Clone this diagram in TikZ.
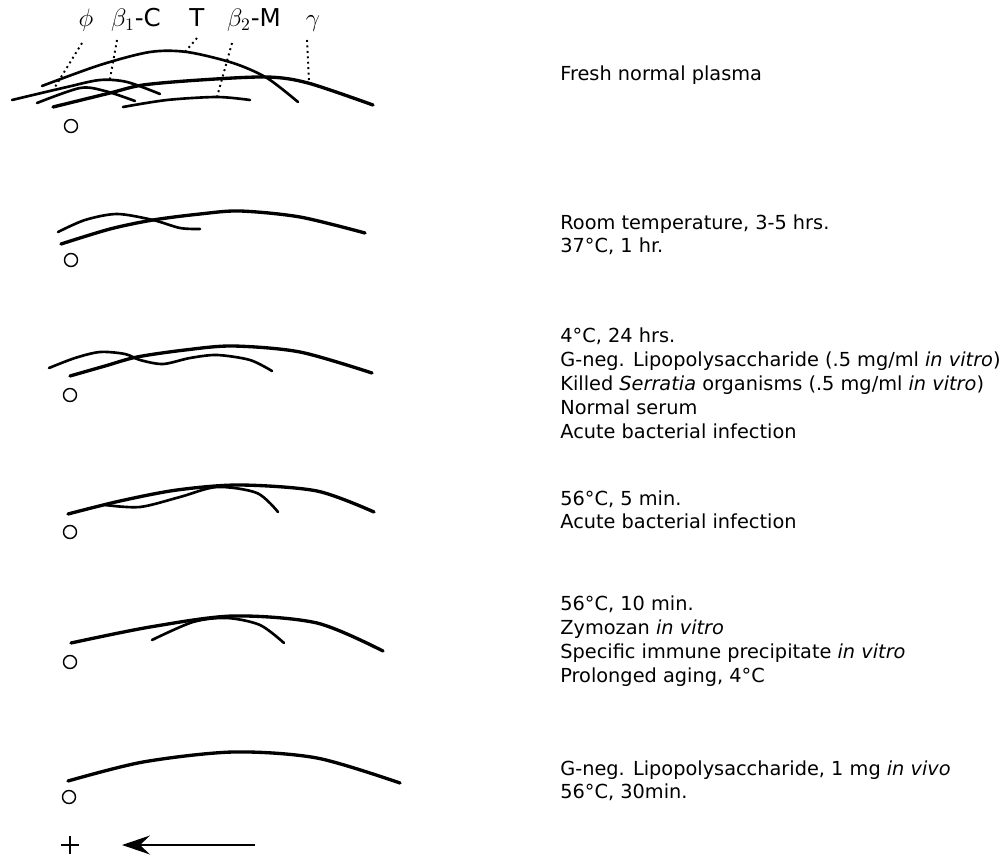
\documentclass[tikz,border=0pt]{standalone}
\usepackage{fontspec}
\setmainfont{DejaVu Sans}
\usetikzlibrary{arrows.meta}

\begin{document}
\begin{tikzpicture}[x=0.02cm, y=-0.02cm,
  band/.style={line width=1.5pt, line cap=round},
  heavy/.style={line width=1.9pt, line cap=round},
  leader/.style={dotted, line width=1.1pt},
  origin/.style={circle, draw, line width=0.8pt, minimum size=0.26cm, inner sep=0pt},
  cond/.style={anchor=base west, inner sep=0pt, font=\fontsize{11}{13}\selectfont},
  frac/.style={anchor=base, inner sep=0pt, font=\fontsize{14}{16}\selectfont}
]
  \useasboundingbox (0,0) rectangle (1007,855);

  % fraction labels
  \node[frac] (phi) at (86,27)  {$\phi$};
  \node[frac] (bc)  at (136,27) {$\beta_1$-C};
  \node[frac] (tr)  at (197,27) {T};
  \node[frac] (bm)  at (254,27) {$\beta_2$-M};
  \node[frac] (gam) at (313,27) {$\gamma$};

  \coordinate (phi-a) at (82,43);   \coordinate (phi-b) at (55,87);
  \coordinate (bc-a)  at (117,40);  \coordinate (bc-b)  at (110,79);
  \coordinate (tr-a)  at (197,38);  \coordinate (tr-b)  at (185,52);
  \coordinate (bm-a)  at (232,43);  \coordinate (bm-b)  at (217,97);
  \coordinate (gam-a) at (307,40);  \coordinate (gam-b) at (309,83);
  \draw[leader] (phi-a) -- (phi-b);
  \draw[leader] (bc-a) -- (bc-b);
  \draw[leader] (tr-a) -- (tr-b);
  \draw[leader] (bm-a) -- (bm-b);
  \draw[leader] (gam-a) -- (gam-b);

  % fresh normal plasma
  \draw[band] plot[smooth] coordinates {(42,86) (100,65) (150,52) (187,52) (233,63) (267,78) (298,102)};
  \draw[heavy] plot[smooth] coordinates {(53,107) (110,93) (143,85) (200,80) (267,77) (308,83) (373,105)};
  \draw[band] plot[smooth] coordinates {(12,100) (67,87) (100,80) (127,82) (160,94)};
  \draw[band] plot[smooth] coordinates {(37,103) (80,88) (105,91) (135,101)};
  \draw[band] plot[smooth] coordinates {(123,107) (167,100) (217,97) (250,100)};
  \node[origin] (o1) at (71,126) {};

  % room temperature
  \draw[band] plot[smooth] coordinates {(58,232) (85,220) (117,214) (153,220) (180,228) (200,229)};
  \draw[heavy] plot[smooth] coordinates {(61,244) (110,229) (153,220) (200,214) (240,211) (300,217) (365,233)};
  \node[origin] (o2) at (71,260) {};

  % 4 C, 24 hrs
  \draw[band] plot[smooth] coordinates {(49,368) (75,358) (100,352) (125,354) (140,360) (163,364) (190,358) (217,355) (250,360) (272,371)};
  \draw[heavy] plot[smooth] coordinates {(70,376) (105,366) (137,357) (185,350) (233,346) (300,352) (372,373)};
  \node[origin] (o3) at (70,395) {};

  % 56 C, 5 min
  \draw[heavy] plot[smooth] coordinates {(68,514) (120,501) (177,490) (240,485) (317,491) (374,512)};
  \draw[band] plot[smooth] coordinates {(105,505) (140,507) (180,497) (217,487) (257,493) (278,512)};
  \node[origin] (o4) at (70,532) {};

  % 56 C, 10 min
  \draw[heavy] plot[smooth] coordinates {(71,643) (150,627) (233,616) (317,623) (383,651)};
  \draw[band] plot[smooth] coordinates {(152,640) (193,622) (227,618) (260,625) (284,643)};
  \node[origin] (o5) at (70,662) {};

  % 56 C, 30 min
  \draw[heavy] plot[smooth] coordinates {(68,781) (143,762) (233,752) (317,758) (400,783)};
  \node[origin] (o6) at (69,797) {};

  % anode and direction
  \draw[line width=0.8pt] (61,845) -- (79,845) (70,836) -- (70,854);
  \coordinate (arr-tail) at (255,845);
  \coordinate (arr-head) at (122,845);
  \draw[-{Stealth[length=5.6mm, width=3.8mm, inset=2mm]}, line width=0.8pt] (arr-tail) -- (arr-head);

  % conditions
  \node[cond] (fresh) at (560,81)  {Fresh normal plasma};
  \node[cond] (room)  at (560,229) {Room temperature, 3-5 hrs.};
  \node[cond] (warm)  at (560,252) {37°C, 1 hr.};
  \node[cond] (cold)  at (560,342) {4°C, 24 hrs.};
  \node[cond] (lps)   at (560,366) {G-neg. Lipopolysaccharide (.5 mg/ml \textit{in vitro})};
  \node[cond] (serr)  at (560,390) {Killed \textit{Serratia} organisms (.5 mg/ml \textit{in vitro})};
  \node[cond] (serum) at (560,414) {Normal serum};
  \node[cond] (acut)  at (560,438) {Acute bacterial infection};
  \node[cond] (hfive) at (560,505) {56°C, 5 min.};
  \node[cond] (acutb) at (560,528) {Acute bacterial infection};
  \node[cond] (hten)  at (560,610) {56°C, 10 min.};
  \node[cond] (zym)   at (560,634) {Zymozan \textit{in vitro}};
  \node[cond] (prec)  at (560,658) {Specific immune precipitate \textit{in vitro}};
  \node[cond] (aging) at (560,682) {Prolonged aging, 4°C};
  \node[cond] (lpsv)  at (560,775) {G-neg. Lipopolysaccharide, 1 mg \textit{in vivo}};
  \node[cond] (hthir) at (560,798) {56°C, 30min.};
\end{tikzpicture}
\end{document}
